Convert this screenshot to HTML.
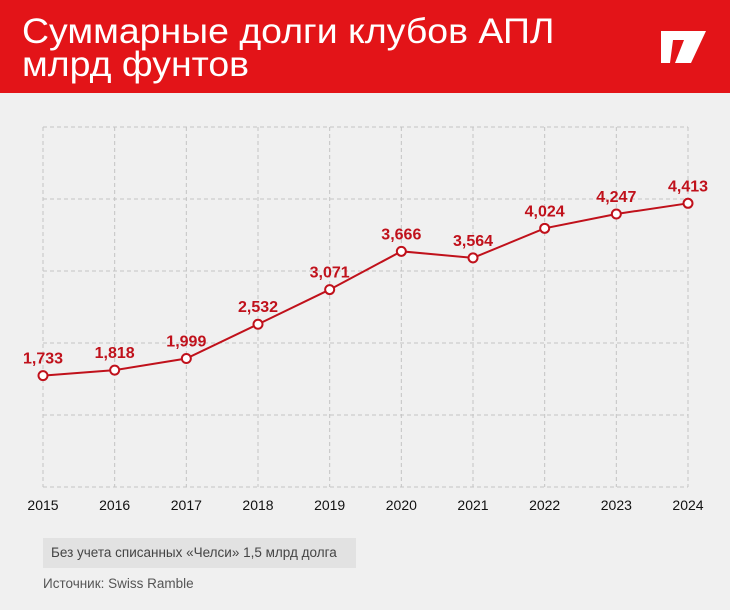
<!DOCTYPE html>
<html><head><meta charset="utf-8"><style>
body{margin:0;width:730px;height:610px;background:#f0f0f0;font-family:"Liberation Sans","DejaVu Sans",sans-serif;overflow:hidden;position:relative}
#hdr{position:absolute;left:0;top:0;width:730px;height:93px;background:#e31418}
#title{position:absolute;left:22px;top:15px;color:#fff;font-size:35px;line-height:33px;transform:scaleX(1.07);transform-origin:left top;white-space:nowrap}
#note{position:absolute;left:43px;top:538px;width:313px;height:30px;background:#e2e2e2;color:#444;font-size:13.5px;line-height:30px;box-sizing:border-box;padding-left:8px}
#src{position:absolute;left:43px;top:576px;color:#555;font-size:13.5px}
</style></head><body>
<div id="hdr">
<div id="title">Суммарные долги клубов АПЛ<br>млрд фунтов</div>
<svg style="position:absolute;left:0;top:0" width="730" height="93"><polygon points="661,31 706,31 691,63 675,63 684,40 673,40 670,63 661,63" fill="#fff"/></svg>
</div>
<svg id="chart" width="730" height="610" style="position:absolute;left:0;top:0"></svg>
<div id="note">Без учета списанных «Челси» 1,5 млрд долга</div>
<div id="src">Источник: Swiss Ramble</div>
<script>
const years=["2015","2016","2017","2018","2019","2020","2021","2022","2023","2024"];
const debts=[1733,1818,1999,2532,3071,3666,3564,4024,4247,4413];
const debtLabels=["1,733","1,818","1,999","2,532","3,071","3,666","3,564","4,024","4,247","4,413"];
const yGrid=[0,1120,2240,3360,4480,5600];
const NS="http://www.w3.org/2000/svg";
const svg=document.getElementById('chart');
const x0=43,x1=688,yTop=127,yBot=487,vMax=5600;
const xs=i=>x0+(x1-x0)*i/(years.length-1);
const ys=v=>yBot-(yBot-yTop)*v/vMax;
function mk(t,a){const e=document.createElementNS(NS,t);for(const k in a)e.setAttribute(k,a[k]);svg.appendChild(e);return e;}
yGrid.forEach(v=>{const l=mk('line',{x1:x0,x2:x1,y1:ys(v),y2:ys(v),stroke:'#c4c4c4','stroke-width':1,'stroke-dasharray':'4,3'});

});
years.forEach((y,i)=>{const l=mk('line',{x1:xs(i),x2:xs(i),y1:yTop,y2:yBot,stroke:'#c4c4c4','stroke-width':1,'stroke-dasharray':'4,3'});


const t=mk('text',{x:xs(i),y:510,'text-anchor':'middle','font-size':14,fill:'#111'});t.textContent=y;

});
const p=mk('polyline',{points:debts.map((v,i)=>xs(i)+','+ys(v)).join(' '),fill:'none',stroke:'#c0111b','stroke-width':2});


debts.forEach((v,i)=>{const c=mk('circle',{cx:xs(i),cy:ys(v),r:4.5,fill:'#fff',stroke:'#c0111b','stroke-width':2});


const t=mk('text',{x:xs(i),y:ys(v)-12,'text-anchor':'middle','font-size':16,'font-weight':'bold',fill:'#c0111b'});t.textContent=debtLabels[i];

});
</script>
</body></html>
